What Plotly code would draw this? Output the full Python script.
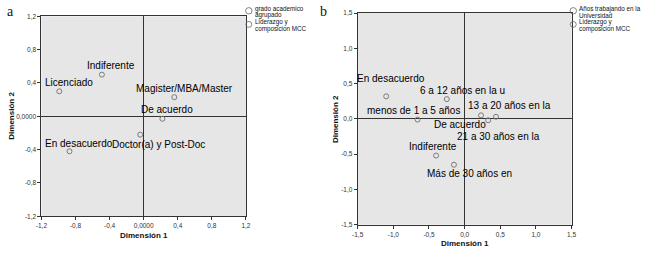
import plotly.graph_objects as go

# ---------------- data ----------------
a_categories = ["Licenciado", "Indiferente", "Magister/MBA/Master", "De acuerdo",
                "Doctor(a) y Post-Doc", "En desacuerdo"]
a_dim1 = [-0.99, -0.49, 0.36, 0.22, -0.04, -0.87]
a_dim2 = [0.30, 0.50, 0.23, -0.03, -0.22, -0.42]

b_categories = ["En desacuerdo", "6 a 12 años en la u", "menos de 1 a 5 años",
                "13 a 20 años en la", "De acuerdo", "21 a 30 años en la",
                "Indiferente", "Más de 30 años en"]
b_dim1 = [-1.10, -0.25, -0.66, 0.44, 0.23, 0.33, -0.40, -0.15]
b_dim2 = [0.32, 0.28, -0.01, 0.03, 0.05, -0.02, -0.52, -0.65]

a_tickvals = [-1.2, -0.8, -0.4, 0.0, 0.4, 0.8, 1.2]
a_ticktext = ["-1,2", "-0,8", "-0,4", "0,0000", "0,4", "0,8", "1,2"]
b_tickvals = [-1.5, -1.0, -0.5, 0.0, 0.5, 1.0, 1.5]
b_ticktext = ["-1,5", "-1,0", "-0,5", "0,0", "0,5", "1,0", "1,5"]

a_legend_lines = [["grado academico", "agrupado"], ["Liderazgo y", "composicion MCC"]]
b_legend_lines = [["Años trabajando en la", "Universidad"], ["Liderazgo y", "composicion MCC"]]

# ---------------- styling (label offsets in px) ----------------
a_label_dx = [10, 9, 10, 5, 18, 9]
a_label_dy = [9, 9, 9, 9, -10, 8]
b_label_dx = [5, 16, -4, 13, -21, 10, -3, 16]
b_label_dy = [18, 9, 9, 11, -9, -16, 9, -9]

W, H = 653, 253
def px(x):
    return x / W
def py(y):
    return 1 - y / H

BG = "#e6e6e6"
LINE = "#333333"
FONT = "Liberation Sans, Arial, sans-serif"

fig = go.Figure()

fig.add_trace(go.Scatter(x=a_dim1, y=a_dim2, mode="markers", xaxis="x", yaxis="y",
                         marker=dict(symbol="circle-open", size=5, color="#7a7a7a",
                                     line=dict(width=1)),
                         showlegend=False, hoverinfo="skip"))
fig.add_trace(go.Scatter(x=b_dim1, y=b_dim2, mode="markers", xaxis="x2", yaxis="y2",
                         marker=dict(symbol="circle-open", size=5, color="#7a7a7a",
                                     line=dict(width=1)),
                         showlegend=False, hoverinfo="skip"))

annotations = []
for c, x, y, dx, dy in zip(a_categories, a_dim1, a_dim2, a_label_dx, a_label_dy):
    annotations.append(dict(text=c, x=x, y=y, xref="x", yref="y", xshift=dx, yshift=dy,
                            showarrow=False, xanchor="center", yanchor="middle",
                            font=dict(family=FONT, size=10, color="#000")))
for c, x, y, dx, dy in zip(b_categories, b_dim1, b_dim2, b_label_dx, b_label_dy):
    annotations.append(dict(text=c, x=x, y=y, xref="x2", yref="y2", xshift=dx, yshift=dy,
                            showarrow=False, xanchor="center", yanchor="middle",
                            font=dict(family=FONT, size=10, color="#000")))

# panel letters
for letter, lx, ly in [("a", 5, 8), ("b", 323, 8)]:
    annotations.append(dict(text=letter, x=px(lx), y=py(ly), xref="paper", yref="paper",
                            showarrow=False, xanchor="center", yanchor="middle",
                            font=dict(family="Liberation Serif, Times New Roman, serif",
                                      size=14, color="#111")))

# axis titles
title_font = dict(family=FONT, size=8, color="#111")
for tx, ty, ang, t in [(140, 238.5, 0, "Dimensión 1"), (6, 115, -90, "Dimensión 2"),
                       (466.5, 246.5, 0, "Dimensión 1"), (335, 118, -90, "Dimensión 2")]:
    annotations.append(dict(text="<b>%s</b>" % t, x=px(tx), y=py(ty), xref="paper",
                            yref="paper", showarrow=False, xanchor="center",
                            yanchor="middle", textangle=ang, font=title_font))

# legends
shapes = []
leg_font = dict(family=FONT, size=6.3, color="#111")
for lines, x0 in [(a_legend_lines, 247), (b_legend_lines, 577)]:
    for i, item in enumerate(lines):
        cy = 7 + 14 * i
        r = 3.3 if i == 0 else 3.0
        shapes.append(dict(type="circle", xref="paper", yref="paper",
                           x0=px(x0 - r), x1=px(x0 + r), y0=py(cy + r), y1=py(cy - r),
                           line=dict(color="#666", width=0.8)))
        for j, ln in enumerate(item):
            annotations.append(dict(text=ln, x=px(x0 + 4), y=py(cy - 2 + 6.8 * j),
                                    xref="paper", yref="paper", showarrow=False,
                                    xanchor="left", yanchor="middle", font=leg_font))

tick_font = dict(family=FONT, size=6.5, color="#333")
def axis(domain, rng, vals, texts, anchor):
    return dict(domain=domain, range=rng, tickvals=vals, ticktext=texts, anchor=anchor,
                showgrid=False, zeroline=True, zerolinecolor=LINE, zerolinewidth=1,
                showline=True, mirror=True, linecolor=LINE, linewidth=1,
                ticks="outside", ticklen=3, tickwidth=1, tickcolor=LINE,
                tickfont=tick_font, fixedrange=True)

fig.update_layout(
    width=W, height=H, margin=dict(l=0, r=0, t=0, b=0),
    paper_bgcolor="white", plot_bgcolor=BG, showlegend=False,
    xaxis=axis([px(36), px(244)], [-1.2, 1.2], a_tickvals, a_ticktext, "y"),
    yaxis=axis([py(218.3), py(12.7)], [-1.2, 1.2], a_tickvals, a_ticktext, "x"),
    xaxis2=axis([px(357.7), px(575.3)], [-1.5, 1.5], b_tickvals, b_ticktext, "y2"),
    yaxis2=axis([py(227), py(9.3)], [-1.5, 1.5], b_tickvals, b_ticktext, "x2"),
    annotations=annotations, shapes=shapes,
)

fig.write_html("out.html", config={"displayModeBar": False},
               post_script="document.body.style.margin='0';document.body.style.overflow='hidden';")
